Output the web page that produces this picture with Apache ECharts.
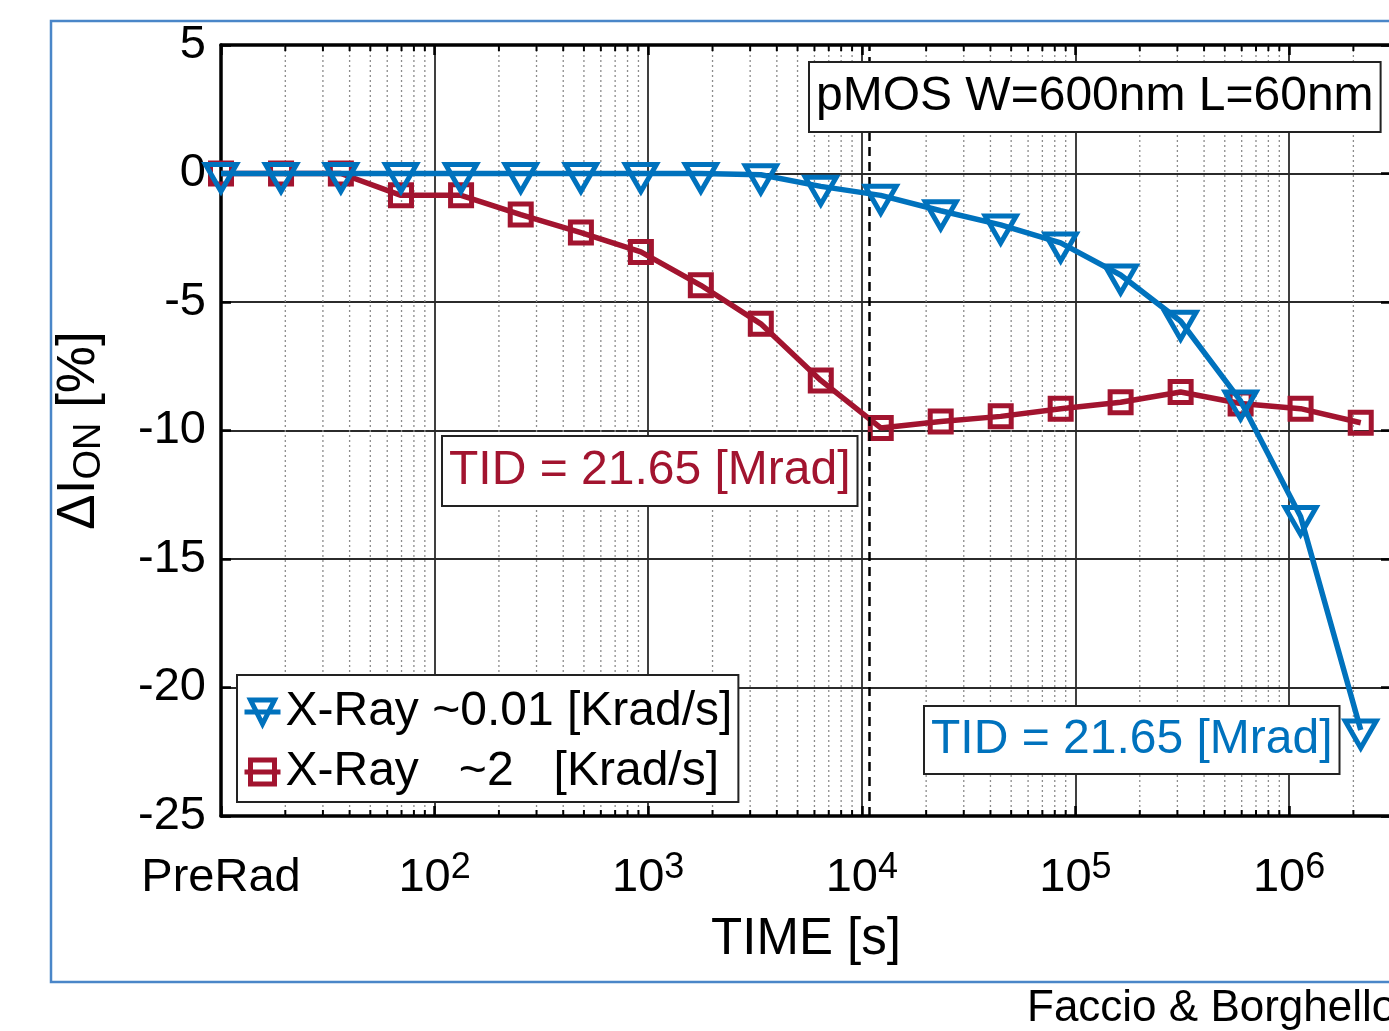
<!DOCTYPE html>
<html>
<head>
<meta charset="utf-8">
<title>pMOS ION degradation vs time</title>
<script src="https://cdn.jsdelivr.net/npm/echarts@6/dist/echarts.min.js"></script>
<style>
  html, body { margin: 0; padding: 0; background: #fff; }
  #chart { width: 1389px; height: 1031px; }
</style>
</head>
<body>
<div id="chart"></div>
<script>
// Irradiation time steps [s]; the first step is the pre-irradiation reading
const times = [10, 19.1, 36.4, 69.6, 133, 253, 484, 924, 1763, 3365, 6424,
  12260, 23400, 44670, 85270, 162700, 310700, 593100, 1132000, 2165000];

// Relative change of the ON current [%]
const lowRateShift = [0, 0, 0, 0, 0, 0, 0, 0, 0, -0.05, -0.5, -0.85, -1.45,
  -2.0, -2.7, -3.95, -5.75, -8.85, -13.35, -21.65];
const highRateShift = [0, 0, 0, -0.85, -0.85, -1.6, -2.3, -3.05, -4.35, -5.85,
  -8.05, -9.9, -9.65, -9.45, -9.15, -8.9, -8.5, -8.95, -9.15, -9.7];

const seriesNames = ['X-Ray ~0.01 [Krad/s]', 'X-Ray   ~2   [Krad/s]'];

// Axis ranges and tick text
const xMin = 10, xMax = 3e6;
const yMin = -25, yMax = 5, yStep = 5;
const preRadLabel = 'PreRad';
const decadeExponents = [2, 3, 4, 5, 6];

// Annotations
const titleText = 'pMOS W=600nm L=60nm';
const tidText = 'TID = 21.65 [Mrad]';
const tidTimeHighRate = 10825;   // ~2 Krad/s run reaches 21.65 Mrad here
const creditText = 'Faccio & Borghello';

const BLUE = '#0072BD';
const RED = '#A2142F';
const FONT = '"Liberation Sans", Arial, Helvetica, sans-serif';
const TRIANGLE_DOWN = 'path://M0,0 L20,0 L10,17.32 Z';
const MARKER_STROKE = 5;

// Minor log grid positions (2..9 x each decade)
const minorValues = [];
for (let d = 1; d <= 6; d++) {
  for (let m = 2; m <= 9; m++) {
    const v = m * Math.pow(10, d);
    if (v < xMax) minorValues.push(v);
  }
}

function timeLabel(v) {
  if (Math.abs(v - xMin) < 1e-6) return '{b|' + preRadLabel + '}';
  const e = Math.round(Math.log10(v));
  if (Math.abs(Math.log10(v) - e) > 1e-6 || decadeExponents.indexOf(e) < 0) return '';
  return '{b|10}{s|' + e + '}';
}

function pairs(values) {
  return times.map(function (t, i) { return [t, values[i]]; });
}

// Hollow square marker centred on the data point
function squareMarker(params, api) {
  const p = api.coord([api.value(0), api.value(1)]);
  const h = 10.5;
  return {
    type: 'rect',
    shape: { x: p[0] - h, y: p[1] - h, width: 2 * h, height: 2 * h },
    style: { fill: 'none', stroke: RED, lineWidth: MARKER_STROKE }
  };
}

// Hollow downward triangle marker, centroid on the data point
function triangleMarker(params, api) {
  const p = api.coord([api.value(0), api.value(1)]);
  const w = 15.5, up = 9, down = 18;
  return {
    type: 'polygon',
    shape: { points: [[p[0] - w, p[1] - up], [p[0] + w, p[1] - up], [p[0], p[1] + down]] },
    style: { fill: 'none', stroke: BLUE, lineWidth: MARKER_STROKE, lineJoin: 'miter' }
  };
}

const chart = echarts.init(document.getElementById('chart'), null, { renderer: 'canvas' });

const option = {
  animation: false,
  backgroundColor: '#fff',
  textStyle: { fontFamily: FONT },
  grid: {
    left: 221, top: 45, width: 1170, height: 771,
    containLabel: false, outerBoundsMode: 'none'
  },
  legend: {
    data: seriesNames,
    orient: 'vertical',
    left: 237, top: 675,
    padding: [12, 6, 5, 5],
    itemGap: 10,
    itemWidth: 36,
    itemHeight: 30,
    backgroundColor: '#fff',
    borderColor: '#222',
    borderWidth: 2,
    selectedMode: false,
    itemStyle: { borderWidth: 5 },
    lineStyle: { width: 5 },
    textStyle: { fontSize: 48, fontFamily: FONT, color: '#000', lineHeight: 50 },
    z: 20
  },
  xAxis: [
    {
      type: 'log', logBase: 10, min: xMin, max: xMax, position: 'bottom',
      axisLine: { onZero: false, lineStyle: { color: '#000', width: 3.5 } },
      axisTick: { inside: true, length: 10, lineStyle: { color: '#000', width: 2.5 } },
      axisLabel: {
        margin: 34,
        formatter: timeLabel,
        rich: {
          b: { fontSize: 47, fontFamily: FONT, color: '#000', lineHeight: 56 },
          s: { fontSize: 36, fontFamily: FONT, color: '#000', lineHeight: 6, verticalAlign: 'top' }
        }
      },
      splitLine: { show: true, lineStyle: { color: '#2b2b2b', width: 1.8 } },
      name: 'TIME [s]',
      nameLocation: 'middle',
      nameGap: 94,
      nameTextStyle: { fontSize: 51, fontFamily: FONT, color: '#000', lineHeight: 60 }
    },
    {
      type: 'log', logBase: 10, min: xMin, max: xMax, position: 'top',
      axisLine: { onZero: false, lineStyle: { color: '#000', width: 3.5 } },
      axisTick: { inside: true, length: 10, lineStyle: { color: '#000', width: 2.5 } },
      axisLabel: { show: false },
      splitLine: { show: false }
    }
  ],
  yAxis: [
    {
      type: 'value', min: yMin, max: yMax, interval: yStep, position: 'left',
      axisLine: { show: true, onZero: false, lineStyle: { color: '#000', width: 3.5 } },
      axisTick: { show: true, inside: true, length: 10, lineStyle: { color: '#000', width: 2.5 } },
      axisLabel: { margin: 15, fontSize: 47, fontFamily: FONT, color: '#000' },
      splitLine: { show: true, lineStyle: { color: '#2b2b2b', width: 2 } },
      name: '{b|ΔI}{sub|ON}{b| [%]}',
      nameLocation: 'middle',
      nameRotate: 90,
      nameGap: 112,
      nameTextStyle: {
        color: '#000',
        rich: {
          b: { fontSize: 53, fontFamily: FONT, color: '#000', lineHeight: 60 },
          sub: { fontSize: 38, fontFamily: FONT, color: '#000', lineHeight: 4, verticalAlign: 'bottom' }
        }
      }
    },
    {
      type: 'value', min: yMin, max: yMax, interval: yStep, position: 'right',
      axisLine: { show: true, onZero: false, lineStyle: { color: '#000', width: 3.5 } },
      axisTick: { show: true, inside: true, length: 10, lineStyle: { color: '#000', width: 2.5 } },
      axisLabel: { show: false },
      splitLine: { show: false }
    }
  ],
  series: [
    {
      // dotted minor grid with small ticks on the top and bottom frame
      type: 'custom',
      silent: true,
      z: 1,
      data: minorValues.map(function (v) { return [v, 0]; }),
      renderItem: function (params, api) {
        const v = api.value(0);
        const top = api.coord([v, yMax]);
        const bot = api.coord([v, yMin]);
        const x = top[0];
        return {
          type: 'group',
          children: [
            { type: 'line', shape: { x1: x, y1: top[1], x2: x, y2: bot[1] },
              style: { stroke: '#8c8c8c', lineWidth: 1.3, lineDash: [2, 3] } },
            { type: 'line', shape: { x1: x, y1: top[1], x2: x, y2: top[1] + 6 },
              style: { stroke: '#000', lineWidth: 2 } },
            { type: 'line', shape: { x1: x, y1: bot[1], x2: x, y2: bot[1] - 6 },
              style: { stroke: '#000', lineWidth: 2 } }
          ]
        };
      }
    },
    // ~2 Krad/s run: line, then its hollow square markers
    {
      name: seriesNames[1],
      type: 'line',
      z: 3,
      data: pairs(highRateShift),
      symbol: 'rect',
      symbolSize: 20,
      showSymbol: false,
      lineStyle: { color: RED, width: 5.5 },
      itemStyle: { color: 'rgba(255,255,255,0)', borderColor: RED, borderWidth: 5 },
      emphasis: { disabled: true },
      markLine: {
        silent: true,
        symbol: ['none', 'none'],
        label: { show: false },
        lineStyle: { color: '#000', type: [9, 6], width: 2.5 },
        data: [{ xAxis: tidTimeHighRate }]
      }
    },
    {
      name: 'highRateMarkers',
      type: 'custom',
      z: 4,
      silent: true,
      data: pairs(highRateShift),
      renderItem: squareMarker
    },
    // ~0.01 Krad/s run: line, then its hollow down-triangle markers
    {
      name: seriesNames[0],
      type: 'line',
      z: 5,
      data: pairs(lowRateShift),
      symbol: TRIANGLE_DOWN,
      symbolSize: [28, 24],
      showSymbol: false,
      lineStyle: { color: BLUE, width: 5.5 },
      itemStyle: { color: 'rgba(255,255,255,0)', borderColor: BLUE, borderWidth: 5 },
      emphasis: { disabled: true }
    },
    {
      name: 'lowRateMarkers',
      type: 'custom',
      z: 6,
      silent: true,
      data: pairs(lowRateShift),
      renderItem: triangleMarker
    }
  ],
  graphic: [
    {
      type: 'rect', silent: true, z: 0,
      shape: { x: 51, y: 21, width: 1400, height: 961 },
      style: { fill: 'none', stroke: '#4a86c8', lineWidth: 2.5 }
    },
    {
      type: 'text', x: 810, y: 63, z: 50, silent: true,
      style: {
        text: titleText, font: '48px ' + FONT, fill: '#000', align: 'left', verticalAlign: 'top',
        backgroundColor: '#fff', borderColor: '#222', borderWidth: 2, padding: [8, 6], lineHeight: 52
      }
    },
    {
      type: 'text', x: 443, y: 437, z: 50, silent: true,
      style: {
        text: tidText, font: '48px ' + FONT, fill: RED, align: 'left', verticalAlign: 'top',
        backgroundColor: '#fff', borderColor: '#222', borderWidth: 2, padding: [8, 6], lineHeight: 52
      }
    },
    {
      type: 'text', x: 925, y: 707, z: 50, silent: true,
      style: {
        text: tidText, font: '48px ' + FONT, fill: BLUE, align: 'left', verticalAlign: 'top',
        backgroundColor: '#fff', borderColor: '#222', borderWidth: 2, padding: [7, 6], lineHeight: 52
      }
    },
    {
      type: 'text', x: 1027, y: 1009, z: 50, silent: true,
      style: { text: creditText, font: '44px ' + FONT, fill: '#000', align: 'left', verticalAlign: 'middle' }
    }
  ]
};

chart.setOption(option);
</script>
</body>
</html>
